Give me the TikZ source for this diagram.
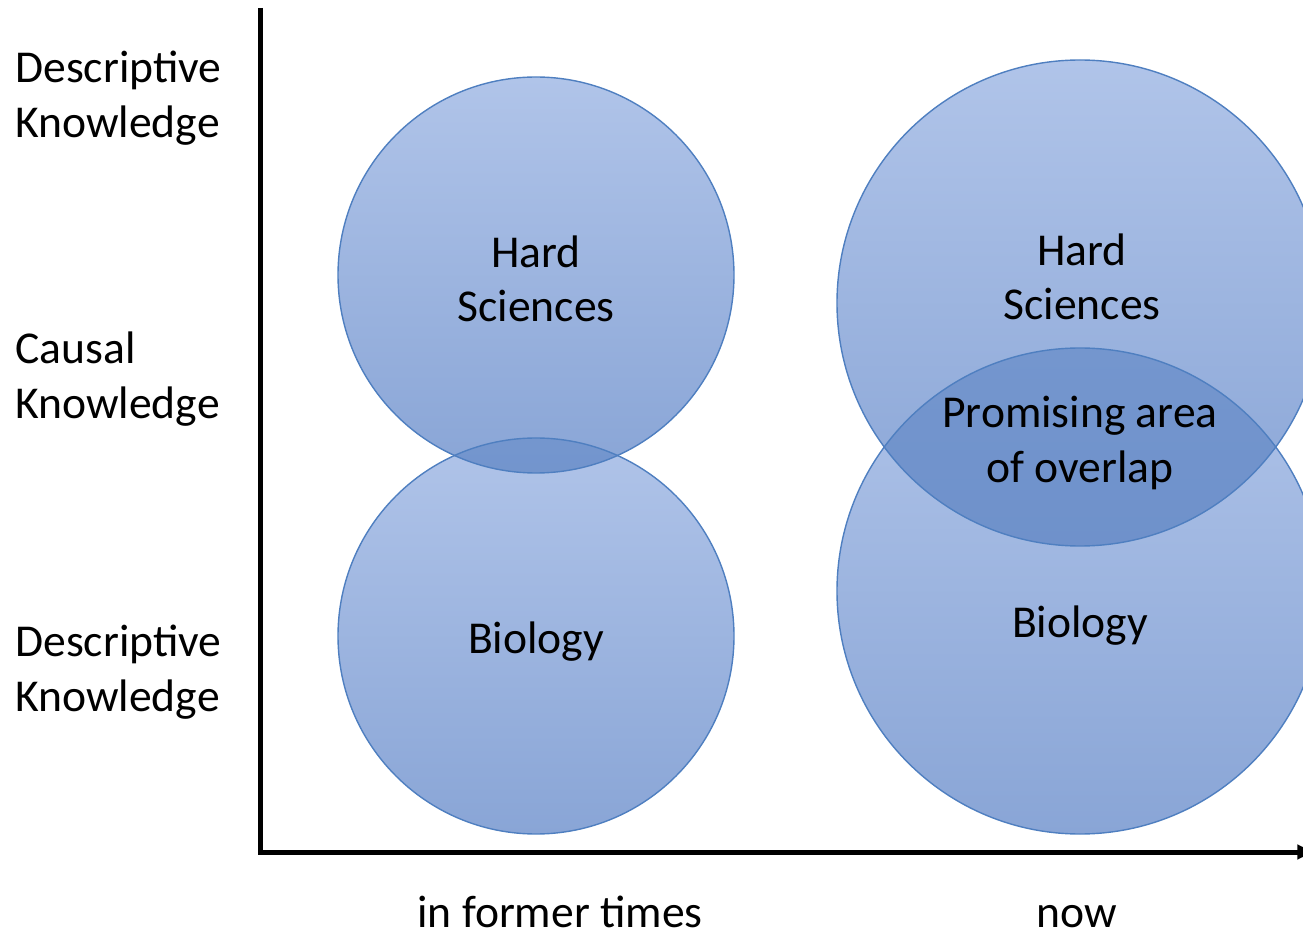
\documentclass[tikz,border=0pt]{standalone}
\usepackage{fontspec}
\setmainfont{Carlito}
\usetikzlibrary{arrows}
\usetikzlibrary{positioning}
\tikzset{disc/.style = {draw=mblue, line width=0.7pt}}
\tikzset{lbl/.style = {align=center, inner sep=0, font=\fontsize{22.8}{27.3}\selectfont}}
\tikzset{side/.style = {lbl, align=left, anchor=west}}
\definecolor{mblue}{RGB}{79, 127, 192}
\definecolor{mtop}{RGB}{176, 196, 233}
\definecolor{mbot}{RGB}{137, 165, 214}
\definecolor{mdeep}{RGB}{116, 150, 206}
\definecolor{mdark}{RGB}{103, 138, 198}

\begin{document}
\begin{tikzpicture}[x=0.5pt, y=0.5pt]
      \useasboundingbox (0,0) rectangle (1303,939);

      \coordinate (ytop) at (260,931);
      \coordinate (o) at (260,87);
      \coordinate (xend) at (1318,87);

      \coordinate (oldhard) at (536,664);
      \coordinate (oldbio) at (536,303);
      \coordinate (nowhard) at (1080,636);
      \coordinate (nowbio) at (1080,348);

      \shade [top color=mtop, bottom color=mbot] (oldhard) circle [radius=198];
      \shade [top color=mtop, bottom color=mbot] (oldbio) circle [radius=198];
      \shade [top color=mtop, bottom color=mbot] (nowbio) circle [radius=243];
      \shade [top color=mtop, bottom color=mbot] (nowhard) circle [radius=243];

      \begin{scope}
        \clip (oldhard) circle [radius=198];
        \shade [top color=mdeep, bottom color=mdark] (oldbio) circle [radius=198];
      \end{scope}
      \begin{scope}
        \clip (nowhard) circle [radius=243];
        \shade [top color=mdeep, bottom color=mdark] (nowbio) circle [radius=243];
      \end{scope}

      \draw [disc] (oldhard) circle [radius=198];
      \draw [disc] (oldbio) circle [radius=198];
      \draw [disc] (nowhard) circle [radius=243];
      \draw [disc] (nowbio) circle [radius=243];

      \draw [line width=2.5pt, -latex] (ytop) -- (o) -- (xend);

      \node [side] (desctop) at (15,841) {Descriptive\\Knowledge};
      \node [side] (causal) at (15,560) {Causal\\Knowledge};
      \node [side] (descbot) at (15,267) {Descriptive\\Knowledge};

      \node [lbl] (oldhardtxt) at (536,660) {Hard\\Sciences};
      \node [lbl] (oldbiotxt) at (536,297) {Biology};
      \node [lbl] (nowhardtxt) at (1082,662) {Hard\\Sciences};
      \node [lbl] (overlap) at (1080,496) {Promising area\\of overlap};
      \node [lbl] (nowbiotxt) at (1080,313) {Biology};

      \node [lbl, anchor=base] (former) at (560,12) {in former times};
      \node [lbl, anchor=base] (now) at (1077,12) {now};
    \end{tikzpicture}
\end{document}
